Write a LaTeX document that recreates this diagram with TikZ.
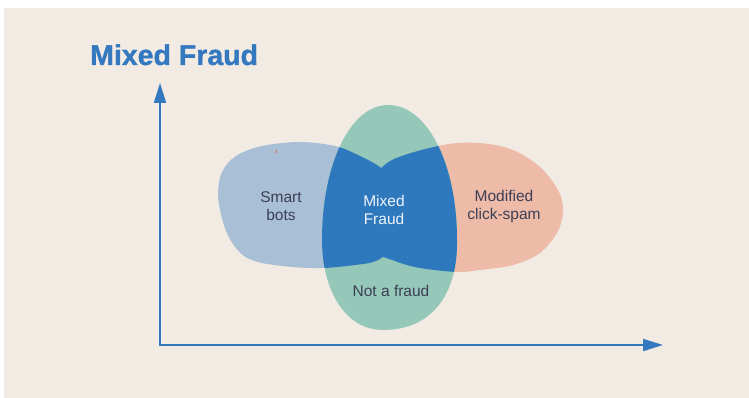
\documentclass[tikz,border=0pt]{standalone}
\usepackage{fontspec}
\setmainfont{Liberation Sans}
\newfontfamily\headfont[FakeBold=1.2]{Liberation Sans Bold}
\usetikzlibrary{arrows.meta}

\definecolor{paper}{HTML}{F2EBE4}
\definecolor{botblue}{HTML}{A8BFD6}
\definecolor{legitgreen}{HTML}{95C8B9}
\definecolor{spamorange}{HTML}{EEBBA8}
\definecolor{mixblue}{HTML}{2E78BD}
\definecolor{axisblue}{HTML}{3479C0}
\definecolor{labelink}{HTML}{3C3F54}
\definecolor{speck}{HTML}{E0674A}

% the three overlapping regions, reusable for filling and clipping
\newcommand\botsregion[1]{\path[#1] plot[smooth cycle, tension=0.55] coordinates {
  (218,195) (222,172) (236,156) (262,146) (300,142) (335,146) (358,155)
  (380,167) (398,183) (406,210) (398,242) (378,260) (355,265) (323,268)
  (293,267) (262,263) (244,256) (231,241) (223,222)};}
\newcommand\spamregion[1]{\path[#1] plot[smooth cycle, tension=0.55] coordinates {
  (366,212) (372,182) (392,160) (443,145) (480,143) (513,150) (540,167)
  (558,190) (563,209) (558,231) (540,253) (513,265) (480,270) (457,272)
  (420,268) (395,261) (375,250)};}
\newcommand\legitregion[1]{\path[#1] (388,105)
  .. controls (428,105) and (457,165) .. (457,240)
  .. controls (458,290) and (435,330) .. (383,330)
  .. controls (345,330) and (322,290) .. (322,240)
  .. controls (322,165) and (350,105) .. (388,105) -- cycle;}

\tikzset{
  region label/.style={font=\fontsize{15.5}{18}\selectfont, text=labelink, anchor=base, inner sep=0pt},
  mix label/.style={region label, text=white!92!mixblue},
  axis/.style={draw=axisblue, line width=2pt},
  heading/.style={font=\fontsize{28.5}{32}\selectfont\headfont, text=axisblue, anchor=base west, inner sep=0pt}
}

\begin{document}
\begin{tikzpicture}[x=1pt, y=-1pt]
  \useasboundingbox (0,0) rectangle (749,398);
  \fill[paper] (4,8) rectangle (749,397.5);

  % title
  \node[heading] (title) at (90,65) {Mixed Fraud};

  % light regions
  \botsregion{fill=botblue}
  \spamregion{fill=spamorange}
  \legitregion{fill=legitgreen}

  % overlap of the green region with the other two
  \begin{scope}
    \legitregion{clip}
    \botsregion{fill=mixblue}
    \spamregion{fill=mixblue}
  \end{scope}

  % small speck on the bots region
  \fill[speck] (275.5,150.5) rectangle (276.5,152.7);

  % labels
  \node[region label] (bots1) at (281,202) {Smart};
  \node[region label] (bots2) at (281,220) {bots};
  \node[mix label] (mix1) at (384,206) {Mixed};
  \node[mix label] (mix2) at (384,224) {Fraud};
  \node[region label] (spam1) at (504,201) {Modified};
  \node[region label] (spam2) at (504,219) {click-spam};
  \node[region label] (legit) at (391,296) {Not a fraud};

  % axes
  \coordinate (ytip) at (160,83);
  \coordinate (origin) at (160,345);
  \coordinate (xtip) at (663,345);
  \draw[axis, {Triangle[length=20pt,width=12pt]}-{Triangle[length=20pt,width=12pt]}]
    (ytip) -- (origin) -- (xtip);
\end{tikzpicture}
\end{document}
